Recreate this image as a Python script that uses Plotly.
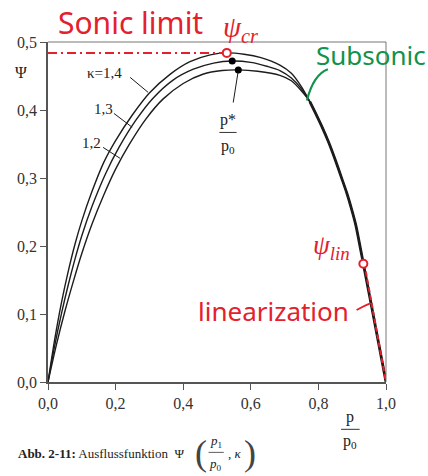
import plotly.graph_objects as go

# Flow function Psi(p/p0, kappa) -- values per isentropic exponent (up to where they merge)
p_k14 = [0.0, 0.02, 0.04, 0.06, 0.08, 0.10, 0.13, 0.165, 0.20, 0.25, 0.30, 0.36,
         0.42, 0.48, 0.529, 0.58, 0.63, 0.686, 0.72, 0.75]
psi_k14 = [0.0, 0.063, 0.117, 0.163, 0.203, 0.237, 0.28, 0.323, 0.355, 0.393, 0.425, 0.452,
           0.471, 0.481, 0.484, 0.482, 0.477, 0.466, 0.454, 0.434]

p_k13 = [0.0, 0.02, 0.04, 0.06, 0.08, 0.10, 0.13, 0.17, 0.21, 0.26, 0.31, 0.37,
         0.43, 0.49, 0.545, 0.60, 0.65, 0.686, 0.72, 0.75]
psi_k13 = [0.0, 0.054, 0.101, 0.143, 0.181, 0.215, 0.258, 0.306, 0.345, 0.385, 0.417, 0.444,
           0.460, 0.469, 0.472, 0.470, 0.464, 0.458, 0.447, 0.431]

p_k12 = [0.0, 0.025, 0.05, 0.075, 0.10, 0.13, 0.165, 0.20, 0.24, 0.29, 0.34, 0.40,
         0.46, 0.515, 0.563, 0.62, 0.686, 0.72, 0.75]
psi_k12 = [0.0, 0.055, 0.104, 0.148, 0.189, 0.232, 0.275, 0.313, 0.349, 0.387, 0.416, 0.439,
           0.453, 0.458, 0.459, 0.457, 0.451, 0.443, 0.428]

# Subsonic branch where the three curves coincide
p_sub = [0.775, 0.79, 0.81, 0.83, 0.849, 0.87, 0.884, 0.90, 0.911, 0.933, 0.957, 0.977, 1.0]
psi_sub = [0.412, 0.397, 0.376, 0.353, 0.328, 0.298, 0.278, 0.251, 0.230, 0.174, 0.112, 0.06, 0.0]

# Critical pressure ratios p*/p0 and maxima
p_crit = [0.529, 0.545, 0.563]
psi_crit = [0.484, 0.472, 0.459]

# Linearisation point
p_lin = 0.933
psi_lin = 0.174

x_ticks = [0.0, 0.2, 0.4, 0.6, 0.8, 1.0]
x_ticktext = ["0,0", "0,2", "0,4", "0,6", "0,8", "1,0"]
y_ticks = [0.0, 0.1, 0.2, 0.3, 0.4, 0.5]
y_ticktext = ["0,0", "0,1", "0,2", "0,3", "0,4", "0,5"]

Y_MAX = 0.5
RED = "#e4202c"
GREEN = "#12924a"
INK = "#1c1c1c"
SERIF = "Liberation Serif"
HAND = "Noto Sans"

fig = go.Figure()

# each curve continues into the common subsonic branch
for px_, py_ in [(p_k14, psi_k14), (p_k13, psi_k13), (p_k12, psi_k12)]:
    fig.add_trace(go.Scatter(x=px_ + p_sub, y=py_ + psi_sub, mode="lines",
                             line=dict(color=INK, width=1.4, shape="spline", smoothing=0.8),
                             hoverinfo="skip", showlegend=False))

# heavier stroke where the curves lie on top of each other
fig.add_trace(go.Scatter(x=p_sub, y=psi_sub, mode="lines",
                         line=dict(color=INK, width=2.8, shape="spline", smoothing=0.6),
                         hoverinfo="skip", showlegend=False))

# Sonic limit (dash-dot) up to the kappa=1.4 maximum
fig.add_trace(go.Scatter(x=[0.0, p_crit[0]], y=[psi_crit[0], psi_crit[0]], mode="lines",
                         line=dict(color=RED, width=2, dash="9px,4px,2px,4px"),
                         hoverinfo="skip", showlegend=False))

# Linearisation (dashed) from the lin point to p/p0 = 1
fig.add_trace(go.Scatter(x=[p_lin + 0.003, 1.0], y=[psi_lin, 0.0], mode="lines",
                         line=dict(color=RED, width=2, dash="5px,3px"),
                         hoverinfo="skip", showlegend=False))

# Maxima of kappa 1.3 and 1.2
fig.add_trace(go.Scatter(x=p_crit[1:], y=psi_crit[1:], mode="markers",
                         marker=dict(color="black", size=7),
                         hoverinfo="skip", showlegend=False))

# Open red circles: psi_cr and psi_lin
fig.add_trace(go.Scatter(x=[p_crit[0], p_lin], y=[psi_crit[0], psi_lin], mode="markers",
                         marker=dict(color="white", size=8, line=dict(color=RED, width=2)),
                         cliponaxis=False, hoverinfo="skip", showlegend=False))

shapes = []
# top and right frame
shapes.append(dict(type="line", xref="paper", yref="paper", x0=0, x1=1, y0=1, y1=1,
                   line=dict(color="#777", width=1)))
shapes.append(dict(type="line", xref="paper", yref="paper", x0=1, x1=1, y0=0, y1=1,
                   line=dict(color="#777", width=1)))
# kappa leader lines
for (a, b, c, d) in [(0.243, 0.448, 0.296, 0.426), (0.195, 0.395, 0.249, 0.3746),
                     (0.163, 0.345, 0.213, 0.329)]:
    shapes.append(dict(type="line", xref="x", yref="y", x0=a, y0=b, x1=c, y1=d,
                       line=dict(color=INK, width=1)))
# leader to p*/p0
shapes.append(dict(type="line", xref="x", yref="y", x0=0.562, y0=0.455, x1=0.548, y1=0.411,
                   line=dict(color=INK, width=1)))


def hbar(x0, x1, y, width=1.0):
    # horizontal fraction bar, y given in Psi units
    shapes.append(dict(type="line", xref="paper", yref="paper", x0=x0, x1=x1,
                       y0=y / Y_MAX, y1=y / Y_MAX, line=dict(color="#333", width=width)))


hbar(0.507, 0.558, 0.367)
hbar(0.867, 0.922, -0.0696)
hbar(0.475, 0.52, -0.1035, 0.8)

# green pointer for subsonic
shapes.append(dict(type="path", xref="x", yref="y",
                   path="M 0.828 0.460 Q 0.785 0.452 0.766 0.414",
                   line=dict(color=GREEN, width=2.2)))
# red pointer for linearization
shapes.append(dict(type="path", xref="x", yref="y",
                   path="M 0.913 0.106 Q 0.935 0.112 0.955 0.116",
                   line=dict(color=RED, width=1.8)))

ann = []


def txt(x, y, text, size, color="#222", family=SERIF, xanchor="center"):
    # position given in (p/p0, Psi) units, placed on paper so it may sit outside the axes
    ann.append(dict(x=x, y=y / Y_MAX, xref="paper", yref="paper", text=text, showarrow=False,
                    xanchor=xanchor, yanchor="middle",
                    font=dict(size=size, color=color, family=family)))


txt(-0.080, 0.455, "Ψ", 16)
txt(0.167, 0.455, "κ=1,4", 15)
txt(0.163, 0.402, "1,3", 15)
txt(0.130, 0.351, "1,2", 15)
txt(0.5325, 0.386, "p*", 16)
txt(0.5325, 0.347, "p<sub>0</sub>", 16)
txt(0.8935, -0.052, "p", 16)
txt(0.8935, -0.087, "p<sub>0</sub>", 16)

txt(0.243, 0.528, "Sonic limit", 30, color=RED, family=HAND)
txt(0.570, 0.519, "<i>ψ<sub>cr</sub></i>", 29, color=RED, family=SERIF)
txt(0.955, 0.481, "Subsonic", 26, color=GREEN, family=HAND)
txt(0.838, 0.198, "<i>ψ<sub>lin</sub></i>", 27, color=RED, family=SERIF)
txt(0.667, 0.104, "linearization", 26, color=RED, family=HAND)

# caption
txt(-0.095, -0.1045, "<b>Abb. 2-11:</b> Ausflussfunktion  Ψ", 13, color="#222", xanchor="left")
txt(0.452, -0.1045, "(", 36, color="#444")
txt(0.497, -0.087, "<i>p</i><sub>1</sub>", 13)
txt(0.497, -0.121, "<i>p</i><sub>0</sub>", 13)
txt(0.553, -0.1045, ", <i>κ</i>", 13)
txt(0.598, -0.1045, ")", 36, color="#444")

fig.update_layout(
    width=428, height=476,
    margin=dict(l=48, r=42, t=42, b=94),
    paper_bgcolor="white", plot_bgcolor="white",
    shapes=shapes, annotations=ann,
    xaxis=dict(range=[0, 1], tickvals=x_ticks, ticktext=x_ticktext,
               showgrid=False, zeroline=False, showline=True, linecolor="#555", linewidth=1.6,
               ticks="outside", ticklen=6, tickwidth=1.4, tickcolor="#555",
               tickfont=dict(family=SERIF, size=16, color="#333")),
    yaxis=dict(range=[0, Y_MAX], tickvals=y_ticks, ticktext=y_ticktext,
               showgrid=False, zeroline=False, showline=True, linecolor="#555", linewidth=1.6,
               ticks="outside", ticklen=6, tickwidth=1.4, tickcolor="#555",
               tickfont=dict(family=SERIF, size=16, color="#333")),
)

fig.write_html("out.html")
